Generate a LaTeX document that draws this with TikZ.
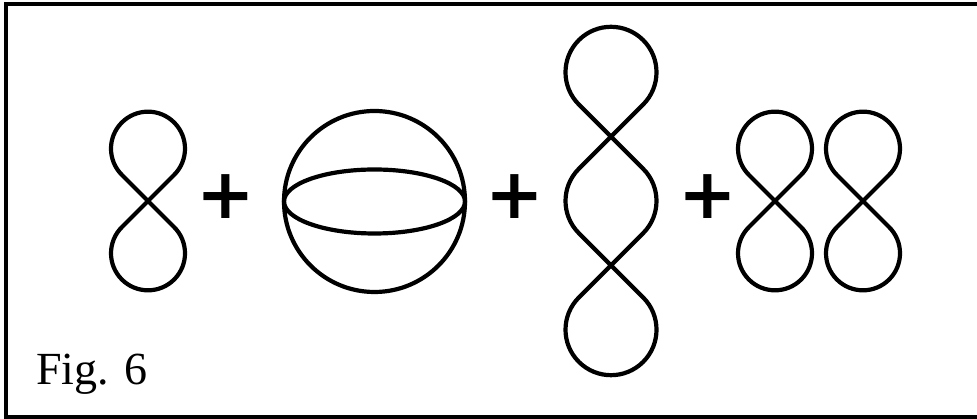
\documentclass[tikz,border=0pt]{standalone}
\usepackage{fontspec}
\setmainfont{Liberation Serif}
\newfontfamily\plusfont{DejaVu Sans}
\usetikzlibrary{positioning}

\begin{document}
\begin{tikzpicture}[x=1pt,y=1pt,
    knot/.style={line width=4.2pt, line join=round},
    plussign/.style={inner sep=0pt, font=\plusfont\bfseries\fontsize{70}{70}\selectfont},
    eight/.pic={
      \draw[knot] (0,0) -- (26.16,26.16) arc[start angle=-45, end angle=225, radius=37]
        -- (0,0) -- (-26.16,-26.16) arc[start angle=135, end angle=405, radius=37] -- cycle;
    },
    chain/.pic={
      \draw[knot] (0,64.35) -- (32.17,32.17) arc[start angle=45, end angle=-45, radius=45.5]
        -- (0,-64.35) -- (-32.17,-96.52) arc[start angle=135, end angle=405, radius=45.5]
        -- (0,-64.35) -- (-32.17,-32.17) arc[start angle=225, end angle=135, radius=45.5]
        -- (0,64.35) -- (32.17,96.52) arc[start angle=-45, end angle=225, radius=45.5] -- cycle;
    }]
  \clip (0,0) rectangle (977,419);
  % frame, right side runs off the page
  \draw[line width=4.5pt] (6,2) rectangle (990,415);

  \pic (eightA) at (148,218) {eight};
  \node[plussign] (plus1) at (226,222) {+};

  % sphere
  \draw[knot] (374.5,217.5) circle[radius=90.5];
  \draw[knot] (374.5,217.5) ellipse[x radius=90.5, y radius=32];
  \node[plussign] (plus2) at (515,222) {+};

  \pic (chainA) at (611,218) {chain};
  \node[plussign] (plus3) at (708,222) {+};

  \pic (eightB) at (775,218) {eight};
  \pic (eightC) at (863,218) {eight};

  \node[anchor=base west, inner sep=0pt, font=\fontsize{46}{46}\selectfont] (figlabel) at (36,34) {Fig. 6};
\end{tikzpicture}
\end{document}
